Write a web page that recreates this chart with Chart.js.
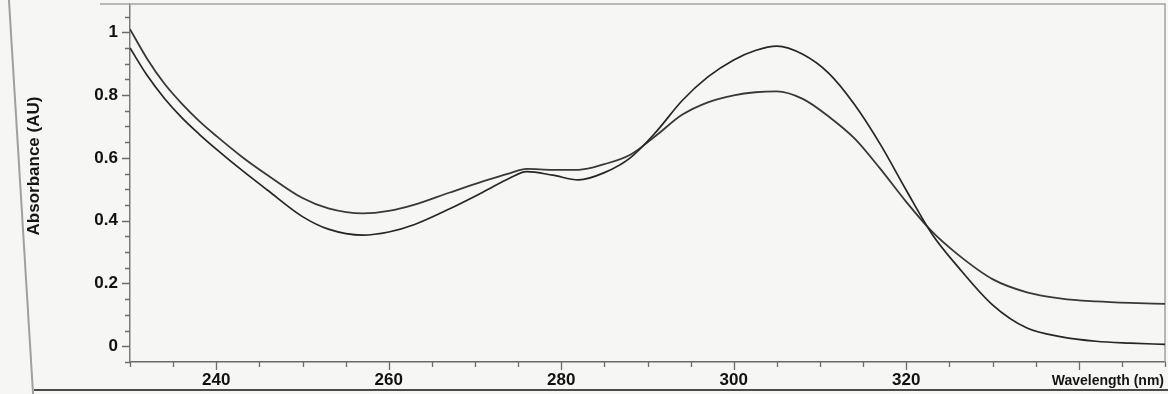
<!DOCTYPE html>
<html>
<head>
<meta charset="utf-8">
<script src="https://cdn.jsdelivr.net/npm/chart.js@4.4.0/dist/chart.umd.min.js"></script>
<style>
  html, body { margin: 0; padding: 0; background: #f6f6f4; }
  #wrap { position: relative; width: 1168px; height: 394px; overflow: hidden; }
  #edgeL { position: absolute; left: 20px; top: -14px; width: 0; height: 422px; border-left: 2px solid #a0a0a0; transform: rotate(-3.5deg); }
  #edgeB { position: absolute; left: 34px; right: 0; top: 389px; height: 0; border-top: 2px solid #4a4a4a; }
  canvas { position: absolute; left: 0; top: 0; }
</style>
</head>
<body>
<div id="wrap">
  <div id="edgeL"></div>
  <div id="edgeB"></div>
  <canvas id="spec" width="1168" height="394"></canvas>
</div>
<script>
// wavelength grid (nm)
const wavelengths = [230, 232, 234, 236, 238, 240, 243, 246, 250, 253, 257, 260, 263, 267, 271, 274, 276, 279, 282, 285,
  288, 291, 294, 297, 300, 302.5, 305, 308, 311, 314, 317, 320, 323, 326, 330, 334, 338, 342, 346, 350];

// curve with the tall band at 305 nm
const absA = [0.950, 0.862, 0.789, 0.728, 0.676, 0.628, 0.560, 0.496, 0.413, 0.373, 0.354, 0.364, 0.388, 0.437, 0.492, 0.535, 0.556, 0.545, 0.530, 0.553,
  0.600, 0.683, 0.782, 0.858, 0.912, 0.942, 0.956, 0.930, 0.870, 0.770, 0.643, 0.497, 0.357, 0.253, 0.132, 0.058, 0.030, 0.016, 0.010, 0.006];

// curve with the lower band and raised baseline
const absB = [1.010, 0.915, 0.836, 0.773, 0.718, 0.670, 0.603, 0.544, 0.472, 0.439, 0.423, 0.431, 0.451, 0.489, 0.526, 0.551, 0.565, 0.562, 0.562, 0.580,
  0.610, 0.671, 0.737, 0.777, 0.799, 0.809, 0.812, 0.788, 0.732, 0.662, 0.565, 0.460, 0.365, 0.292, 0.214, 0.172, 0.152, 0.143, 0.138, 0.135];

const xTickLabels = ['240', '260', '280', '300', '320'];
const yTickLabels = ['0', '0.2', '0.4', '0.6', '0.8', '1'];
const xTitle = 'Wavelength (nm)';
const yTitle = 'Absorbance (AU)';

const fmtY = v => String(Math.round(v * 100) / 100);
const toPts = ys => wavelengths.map((w, i) => ({ x: w, y: ys[i] }));

// box lines, short/long tick marks and both axis titles
const frameAndTicks = {
  id: 'frameAndTicks',
  beforeDatasetsDraw(chart) {
    const { ctx, chartArea: a } = chart;
    ctx.save();
    ctx.strokeStyle = '#a2a2a2';
    ctx.lineWidth = 1.5;
    ctx.beginPath();
    ctx.moveTo(a.left - 30, a.top);
    ctx.lineTo(a.right, a.top);
    ctx.lineTo(a.right, a.bottom);
    ctx.stroke();
    ctx.restore();
  },
  afterDraw(chart) {
    const { ctx, chartArea: a, scales: { x, y } } = chart;
    ctx.save();
    ctx.strokeStyle = '#6c6c6c';
    ctx.lineWidth = 1.3;
    ctx.beginPath();
    y.ticks.forEach(t => {
      const py = Math.round(y.getPixelForValue(t.value)) + 0.5;
      const len = yTickLabels.includes(fmtY(t.value)) ? 8 : 5;
      ctx.moveTo(a.left - len, py);
      ctx.lineTo(a.left, py);
    });
    x.ticks.forEach(t => {
      const px = Math.round(x.getPixelForValue(t.value)) + 0.5;
      const len = Math.round(t.value) % 20 === 0 ? 8 : 5;
      ctx.moveTo(px, a.bottom);
      ctx.lineTo(px, a.bottom + len);
    });
    ctx.stroke();
    ctx.fillStyle = '#151515';
    ctx.font = 'bold 14px "Liberation Sans", Arial, sans-serif';
    ctx.textAlign = 'right';
    ctx.textBaseline = 'middle';
    ctx.fillText(xTitle, a.right - 1, a.bottom + 19);
    ctx.translate(34, 166);
    ctx.rotate(-Math.PI / 2);
    ctx.textAlign = 'center';
    ctx.font = 'bold 17px "Liberation Sans", Arial, sans-serif';
    ctx.fillText(yTitle, 0, 0);
    ctx.restore();
  }
};

new Chart(document.getElementById('spec'), {
  type: 'line',
  data: {
    datasets: [
      { label: 'A', data: toPts(absA), borderColor: '#262626', borderWidth: 1.7, pointRadius: 0, cubicInterpolationMode: 'monotone', fill: false },
      { label: 'B', data: toPts(absB), borderColor: '#383838', borderWidth: 1.8, pointRadius: 0, cubicInterpolationMode: 'monotone', fill: false }
    ]
  },
  options: {
    responsive: false,
    animation: false,
    layout: { padding: { top: 4, right: 3, left: 0, bottom: 0 } },
    plugins: { legend: { display: false }, tooltip: { enabled: false } },
    scales: {
      x: {
        type: 'linear', min: 230, max: 350,
        afterFit: s => { s.height = 32; s.paddingLeft = 0; s.paddingRight = 0; },
        grid: { display: false, drawTicks: false },
        border: { display: true, color: '#6a6a6a', width: 1.5 },
        ticks: {
          stepSize: 5, autoSkip: false, maxRotation: 0, padding: 8, color: '#111',
          font: { size: 17, weight: 'bold', family: '"Liberation Sans", Arial, sans-serif' },
          callback: v => xTickLabels.includes(String(Math.round(v))) ? String(Math.round(v)) : ''
        }
      },
      y: {
        min: -0.05, max: 1.09,
        afterFit: s => { s.width = 130; s.paddingTop = 0; s.paddingBottom = 0; },
        grid: { display: false, drawTicks: false },
        border: { display: true, color: '#7c7c7c', width: 1.5 },
        ticks: {
          stepSize: 0.05, includeBounds: false, autoSkip: false, padding: 12, color: '#111',
          font: { size: 17, weight: 'bold', family: '"Liberation Sans", Arial, sans-serif' },
          callback: v => yTickLabels.includes(fmtY(v)) ? fmtY(v) : ''
        }
      }
    }
  },
  plugins: [frameAndTicks]
});
</script>
</body>
</html>
